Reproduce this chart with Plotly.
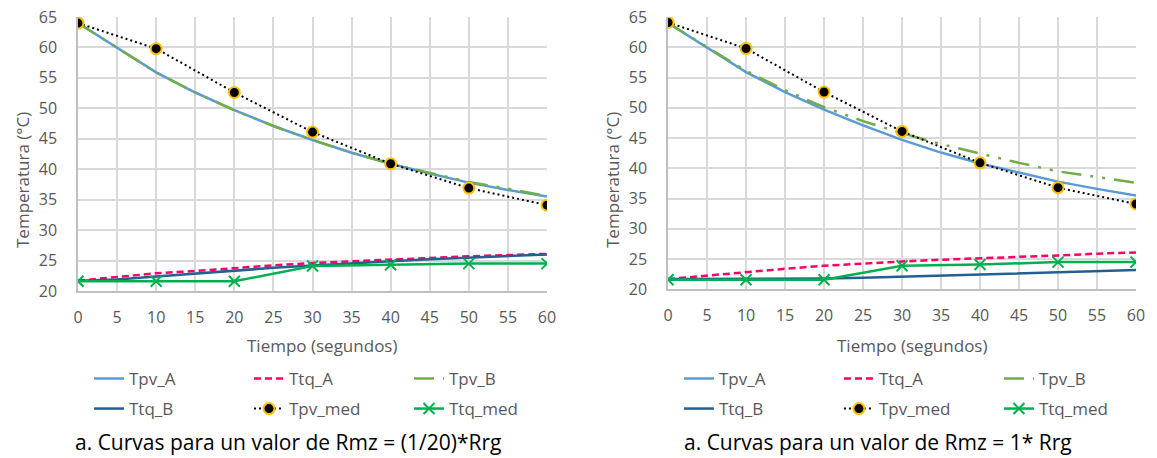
import plotly.graph_objects as go

# ---------------- data ----------------
t = [0, 5, 10, 15, 20, 25, 30, 35, 40, 45, 50, 55, 60]
t_med = [0, 10, 20, 30, 40, 50, 60]

# Left: Rmz = (1/20)*Rrg
L_Tpv_A = [64.0, 60.0, 55.9, 52.6, 49.7, 47.1, 44.8, 42.7, 40.9, 39.3, 37.8, 36.6, 35.5]
L_Ttq_A = [21.7, 22.3, 22.9, 23.3, 23.8, 24.2, 24.6, 24.9, 25.2, 25.5, 25.7, 25.9, 26.1]
L_Tpv_B = [64.0, 60.0, 55.9, 52.6, 49.7, 47.1, 44.8, 42.7, 40.9, 39.4, 37.9, 36.8, 35.6]
L_Ttq_B = [21.7, 21.9, 22.4, 22.9, 23.4, 23.8, 24.2, 24.6, 24.9, 25.2, 25.5, 25.7, 26.0]
L_Tpv_med = [64.0, 59.8, 52.6, 46.1, 40.9, 36.9, 34.1]
L_Ttq_med = [21.6, 21.6, 21.6, 24.1, 24.3, 24.5, 24.5]

# Right: Rmz = 1*Rrg
R_Tpv_A = [64.0, 60.0, 55.9, 52.6, 49.7, 47.1, 44.7, 42.6, 40.8, 39.3, 37.8, 36.6, 35.5]
R_Ttq_A = [21.7, 22.3, 22.9, 23.4, 23.9, 24.3, 24.6, 24.9, 25.1, 25.4, 25.6, 25.9, 26.1]
R_Tpv_B = [64.0, 60.1, 56.1, 52.9, 50.1, 47.8, 45.8, 44.0, 42.4, 40.9, 39.5, 38.5, 37.6]
R_Ttq_B = [21.7, 21.7, 21.7, 21.7, 21.8, 21.9, 22.1, 22.3, 22.5, 22.7, 22.9, 23.0, 23.2]
R_Tpv_med = [64.1, 59.8, 52.6, 46.1, 40.9, 36.8, 34.1]
R_Ttq_med = [21.6, 21.6, 21.6, 23.9, 24.1, 24.5, 24.5]

x_title = "Tiempo (segundos)"
y_title = "Temperatura (°C)"
captions = ["a. Curvas para un valor de Rmz = (1/20)*Rrg",
            "a. Curvas para un valor de Rmz = 1* Rrg"]

FONT = "Open Sans"
GREY = "#595959"

fig = go.Figure()

def add_set(xa, ya, legA, legB, d):
    Tpv_A, Ttq_A, Tpv_B, Ttq_B, Tpv_med, Ttq_med = d
    common = dict(xaxis=xa, yaxis=ya, hoverinfo="skip")
    fig.add_trace(go.Scatter(x=t, y=Tpv_A, name="Tpv_A", mode="lines", legend=legA,
                             line=dict(color="#5B9BD5", width=2.5), **common))
    fig.add_trace(go.Scatter(x=t, y=Ttq_A, name="Ttq_A", mode="lines", legend=legA,
                             line=dict(color="#FF0066", width=2.5, dash="7px,4px"), **common))
    fig.add_trace(go.Scatter(x=t, y=Tpv_B, name="Tpv_B", mode="lines", legend=legA,
                             line=dict(color="#70AD47", width=2.5,
                                       dash="20px,9px,3px,9px,3px,9px"), **common))
    fig.add_trace(go.Scatter(x=t, y=Ttq_B, name="Ttq_B", mode="lines", legend=legB,
                             line=dict(color="#255E91", width=2.5), **common))
    fig.add_trace(go.Scatter(x=t_med, y=Tpv_med, name="Tpv_med", mode="lines+markers", legend=legB,
                             line=dict(color="black", width=2, dash="2px,3px"),
                             marker=dict(symbol="circle", size=11, color="black",
                                         line=dict(color="#FFC000", width=2)), **common))
    fig.add_trace(go.Scatter(x=t_med, y=Ttq_med, name="Ttq_med", mode="lines+markers", legend=legB,
                             line=dict(color="#00B050", width=2.5),
                             marker=dict(symbol="x-thin", size=11,
                                         line=dict(color="#00B050", width=2)), **common))

add_set("x", "y", "legend", "legend2",
        (L_Tpv_A, L_Ttq_A, L_Tpv_B, L_Ttq_B, L_Tpv_med, L_Ttq_med))
add_set("x2", "y2", "legend3", "legend4",
        (R_Tpv_A, R_Ttq_A, R_Tpv_B, R_Ttq_B, R_Tpv_med, R_Ttq_med))

axis_common = dict(
    showline=True, linecolor="#BFBFBF", linewidth=1.5,
    showgrid=True, gridcolor="#D9D9D9", gridwidth=1.5,
    zeroline=False, dtick=5, ticklabeloverflow="allow",
    ticks="outside", tickcolor="rgba(0,0,0,0)",
    tickfont=dict(family=FONT, size=16, color=GREY),
)
xaxis_common = dict(axis_common, range=[0, 60], tick0=0, ticklen=11)
yaxis_common = dict(axis_common, range=[20, 65], tick0=20, ticklen=16)

def leg(x, y):
    return dict(orientation="h", x=x, y=y, xanchor="left", yanchor="middle",
                entrywidth=115, entrywidthmode="pixels", itemwidth=30,
                font=dict(family=FONT, size=17, color=GREY),
                bgcolor="rgba(0,0,0,0)", borderwidth=0)

fig.update_layout(
    width=1157, height=458,
    margin=dict(l=78, r=21, t=17, b=167, autoexpand=False),
    paper_bgcolor="white", plot_bgcolor="white",
    font=dict(family=FONT, color=GREY),
    xaxis=dict(xaxis_common, domain=[0, 0.4433], anchor="y"),
    yaxis=dict(yaxis_common, domain=[0, 1], anchor="x"),
    xaxis2=dict(xaxis_common, domain=[0.5577, 1], anchor="y2"),
    yaxis2=dict(yaxis_common, domain=[0.006, 1], anchor="x2"),
    legend=leg(0.0104, -0.321),
    legend2=leg(0.0104, -0.4307),
    legend3=leg(0.568, -0.321),
    legend4=leg(0.568, -0.4307),
    showlegend=True,
)

# plot area: x 78..1136 px, y 17..291 px  -> paper helpers
def px(xp):
    return (xp - 78) / 1058
def py(yp):
    return (291 - yp) / 274

title_font = dict(family=FONT, size=17, color=GREY)
for cx in (322, 912):
    fig.add_annotation(text=x_title, xref="paper", yref="paper", x=px(cx), y=py(345),
                       xanchor="center", yanchor="middle", showarrow=False, font=title_font)
for cx in (22, 612):
    fig.add_annotation(text=y_title, xref="paper", yref="paper", x=px(cx), y=py(180),
                       xanchor="center", yanchor="middle", textangle=-90, showarrow=False,
                       font=title_font)

for cap, cx in zip(captions, (288, 878)):
    fig.add_annotation(text=cap, xref="paper", yref="paper", x=px(cx), y=-0.6085,
                       xanchor="center", yanchor="bottom", showarrow=False,
                       font=dict(family=FONT, size=21, color="black"))

fig.write_html("out.html", config={"displayModeBar": False},
               post_script="document.body.style.margin='0';document.body.style.overflow='hidden';")
